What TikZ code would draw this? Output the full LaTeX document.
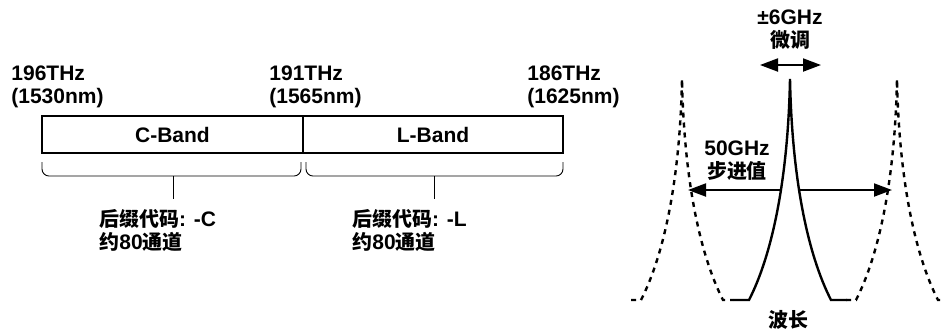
\documentclass[tikz,border=0pt]{standalone}
\usepackage{fontspec}
\setmainfont{Liberation Sans}
\newfontfamily\cjk{Noto Sans CJK SC}[Scale=0.95]
\usetikzlibrary{arrows.meta}

\begin{document}
\begin{tikzpicture}[x=0.5pt,y=-0.5pt,
	font=\bfseries\fontsize{10.5}{11.5}\selectfont,
	band/.style={draw,line width=1.2pt,minimum height=18.5pt,inner sep=0pt},
	freq/.style={anchor=west,align=left,inner sep=0pt},
	brace/.style={line width=0.45pt},
	bigarrow/.style={line width=1pt,-{Triangle[length=9pt,width=6.5pt]}},
	peak/.style={line width=1.2pt},
	ghost/.style={peak,dash pattern=on 2.5pt off 2.5pt}]
	\useasboundingbox (0,0) rectangle (943,329);
	
	% bands
	\node[band,minimum width=130.5pt] (cband) at (172.5,134.5) {C-Band};
	\node[band,minimum width=130pt] (lband) at (433,134.5) {L-Band};
	
	\node[freq] (f196) at (11,87) {196THz\\(1530nm)};
	\node[freq] (f191) at (269,87) {191THz\\(1565nm)};
	\node[freq] (f186) at (527,87) {186THz\\(1625nm)};
	
	% braces
	\draw[brace] (42,162) -- (42,169) to[out=-90,in=180] (49,176) -- (294,176) to[out=0,in=-90] (301,169) -- (301,162);
	\draw[brace] (306,162) -- (306,169) to[out=-90,in=180] (313,176) -- (556,176) to[out=0,in=-90] (563,169) -- (563,162);
	\coordinate (cstem) at (173,176);
	\coordinate (lstem) at (434,176);
	
	\node[freq] (ccode) at (99,231) {{\cjk 后缀代码}: -C\\{\cjk 约}80{\cjk 通道}};
	\node[freq] (lcode) at (352,231) {{\cjk 后缀代码}: -L\\{\cjk 约}80{\cjk 通道}};
	\draw[brace,shorten >=5.5pt] (cstem) -- (cstem |- ccode.north);
	\draw[brace,shorten >=5.5pt] (lstem) -- (lstem |- lcode.north);
	
	% peaks
	\foreach \c/\s/\f in {682/ghost/10, 790/peak/16, 897/ghost/10}
	{
		\draw[\s] (\c-41-\f,300) -- (\c-41,300) .. controls (\c-18,255) and (\c-2,180) .. (\c,79)
			.. controls (\c+2,180) and (\c+18,255) .. (\c+41,300) -- (\c+41+\f,300);
	}
	
	\node[align=center,inner sep=0pt] (tune) at (790,30) {±6GHz\\{\cjk 微调}};
	\coordinate (tunel) at (760,65);
	\coordinate (tuner) at (821,65);
	\draw[bigarrow,{Triangle[length=9pt,width=6.5pt]}-{Triangle[length=9pt,width=6.5pt]}] (tunel) -- (tuner);
	
	\node[align=center,inner sep=0pt] (pitch) at (737,161) {50GHz\\{\cjk 步进值}};
	\coordinate (pitchl) at (780,190);
	\coordinate (pitchr) at (798,190);
	\coordinate (ghostl) at (688,190);
	\coordinate (ghostr) at (892,190);
	\draw[bigarrow] (pitchl) -- (ghostl);
	\draw[bigarrow] (pitchr) -- (ghostr);
	
	\node[inner sep=0pt] (wave) at (788,320) {\cjk 波长};
\end{tikzpicture}
\end{document}
